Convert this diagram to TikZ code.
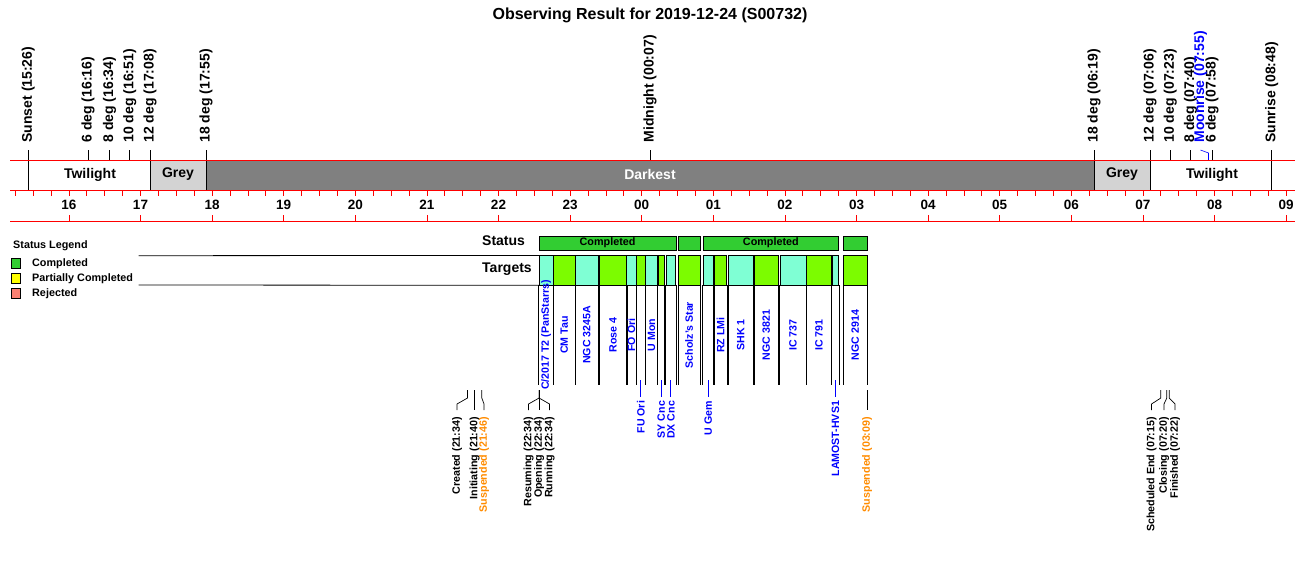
\documentclass[tikz,border=0pt]{standalone}
\usepackage{fontspec}
\setmainfont{Liberation Sans}
\usepackage{tikz}
\usetikzlibrary{arrows.meta,positioning,calc}
\definecolor{axisred}{RGB}{255,0,0}
\definecolor{greyband}{RGB}{211,211,211}
\definecolor{darkband}{RGB}{128,128,128}
\definecolor{done}{RGB}{50,205,50}
\definecolor{partial}{RGB}{255,255,0}
\definecolor{rejected}{RGB}{250,128,114}
\definecolor{tgtaqua}{RGB}{127,255,212}
\definecolor{tgtlawn}{RGB}{124,252,0}
\definecolor{evorange}{RGB}{255,140,0}
\newcommand\plotfont[1]{\fontsize{#1}{#1}\selectfont\bfseries}
\tikzset{
  x=1pt, y=-1pt,
  titlelbl/.style={inner sep=0pt, font=\plotfont{16}},
  toplbl/.style={rotate=90, anchor=west, inner sep=0pt, outer xsep=7.5pt,
    font=\plotfont{14}},
  bandlbl/.style={inner sep=0pt, font=\plotfont{14}},
  hourlbl/.style={inner sep=0pt, font=\plotfont{13.5}},
  rowlbl/.style={anchor=west, inner sep=0pt, font=\plotfont{14}},
  leglbl/.style={anchor=west, inner sep=0pt, font=\plotfont{10.8}},
  legbox/.style={draw=black, fill=#1, minimum size=9.5pt, inner sep=0pt,
    line width=0.6pt},
  statbox/.style={draw=black, fill=done, line width=0.6pt, inner sep=0pt,
    minimum height=14pt, font=\plotfont{10.8}},
  tgtbox/.style={draw=black, fill=#1, line width=0.6pt, inner sep=0pt,
    minimum height=29.3pt},
  tgtlbl/.style={rotate=90, inner sep=0pt, text=blue, font=\plotfont{10.6}},
  evlbl/.style={rotate=90, anchor=east, inner sep=0pt, outer xsep=7pt,
    font=\plotfont{10.7}},
  % line kinds
  redline/.style={axisred, line width=0.9pt},
  markline/.style={black, line width=0.8pt},
  colline/.style={black, line width=0.7pt},
  leadline/.style={black, line width=0.7pt},
}
\begin{document}
\begin{tikzpicture}
\path[fill=white,use as bounding box] (0,0) rectangle (1300,560);

\node[titlelbl] (title) at (650,15) {Observing Result for 2019-12-24 (S00732)};

% ---------- sky band ----------
\fill[white]    (10,160) rectangle (1295,190);
\fill[greyband] (150.0,160) rectangle (206.1,190);
\fill[darkband] (206.1,160) rectangle (1093.9,190);
\fill[greyband] (1093.9,160) rectangle (1150.1,190);

\node[bandlbl] (twiEve) at (90,174.5) {Twilight};
\node[bandlbl] (greyEve) at (178,174.5) {Grey};
\node[bandlbl, text=white] (darkest) at (650,174.5) {Darkest};
\node[bandlbl] (greyMorn) at (1122,174.5) {Grey};
\node[bandlbl] (twiMorn) at (1212,174.5) {Twilight};

% ---------- sun / twilight events ----------
\foreach \xx/\yb/\txt [count=\i] in {28.3/190/Sunset (15:26), 88.0/160/6 deg (16:16),
    109.5/160/8 deg (16:34), 129.7/160/10 deg (16:51), 150.0/190/12 deg (17:08),
    206.1/190/18 deg (17:55), 650.0/160/Midnight (00:07), 1093.9/190/18 deg (06:19),
    1150.1/190/12 deg (07:06), 1170.3/160/10 deg (07:23), 1190.6/160/8 deg (07:40),
    1212.1/160/6 deg (07:58), 1271.8/190/Sunrise (08:48)}{
  \node[toplbl] (sky\i) at (\xx,150) {\txt};
  \coordinate (skyEnd\i) at (\xx,\yb);
  \draw[markline] (sky\i.west) -- (skyEnd\i);}

\node[toplbl, text=blue] (moonrise) at (1200.5,150) {Moonrise (07:55)};
\coordinate (moonEnd) at (1208.5,160);
\draw[blue, line width=0.6pt] (moonrise.west) -- (1208.5,153) -- (moonEnd);

\draw[redline] (10,160) -- (1295,160);
\draw[redline] (10,190) -- (1295,190);

% ---------- time axis ----------
\foreach \k in {0,...,71}{
  \draw[redline, line width=0.7pt] ({15.2+\k*17.9},190) -- ++(0,6);}
\foreach \h [count=\i from 0] in {16,17,18,19,20,21,22,23,00,01,02,03,04,05,06,07,08,09}{
  \node[hourlbl] (hour\i) at ({68.9+\i*71.6},204.5) {\h};
  \draw[redline, line width=0.7pt] ({68.9+\i*71.6},215) -- ++(0,6);}
\draw[redline] (10,221) -- (1295,221);

% ---------- legend ----------
\node[leglbl] (legTitle) at (13,246) {Status Legend};
\node[legbox=done]     (legDone) at (16,263.5) {};
\node[legbox=partial]  (legPart) at (16,278.5) {};
\node[legbox=rejected] (legRej)  at (16,293.5) {};
\node[leglbl] at (32,263.5) {Completed};
\node[leglbl] at (32,278.5) {Partially Completed};
\node[leglbl] at (32,293.5) {Rejected};

% ---------- status row ----------
\node[rowlbl] (statusLbl)  at (482,241) {Status};
\node[rowlbl] (targetsLbl) at (482,269.5) {Targets};

\node[statbox, minimum width=136.9pt] (st1) at (607.55,243) {Completed};
\node[statbox, minimum width=21.7pt]  (st2) at (689.15,243) {};
\node[statbox, minimum width=135.7pt] (st3) at (770.85,243) {Completed};
\node[statbox, minimum width=23.9pt]  (st4) at (855.25,243) {};

% ---------- targets ----------
\foreach \l/\r/\c/\name/\flag [count=\i] in {
    539.1/553.3/tgtaqua/{C/2017 T2 (PanStarrs)}/1, 553.3/575.3/tgtlawn/CM Tau/1,
    575.3/598.3/tgtaqua/NGC 3245A/1, 599.3/626.7/tgtlawn/Rose 4/1,
    626.7/636.0/tgtaqua/FO Ori/1, 636.7/645.0/tgtlawn/FU Ori/0,
    645.7/657.3/tgtaqua/U Mon/1, 658.0/664.3/tgtlawn/SY Cnc/0,
    666.0/675.7/tgtaqua/DX Cnc/0, 678.3/700.0/tgtlawn/Scholz's Star/1,
    703.0/713.3/tgtaqua/U Gem/0, 714.3/726.7/tgtlawn/RZ LMi/1,
    728.3/753.3/tgtaqua/SHK 1/1, 754.3/778.3/tgtlawn/NGC 3821/1,
    780.0/806.0/tgtaqua/IC 737/1, 806.7/831.0/tgtlawn/IC 791/1,
    832.0/838.7/tgtaqua/LAMOST-HVS1/0, 843.3/867.2/tgtlawn/NGC 2914/1}{
  \pgfmathsetmacro\xc{(\l+\r)/2}
  \pgfmathsetmacro\bw{\r-\l}
  \node[tgtbox=\c, minimum width=\bw pt] (tgt\i) at (\xc,270.35) {};
  \draw[colline] (tgt\i.south west) -- ++(0,100);
  \draw[colline] (tgt\i.south east) -- ++(0,100);
  \ifnum\flag=1
    \node[tgtlbl] (tgtLbl\i) at (\xc,335) {\name};
  \else
    \coordinate (tgtFoot\i) at (\xc,380);
    \node[tgtlbl, anchor=east, outer xsep=4pt] (tgtLbl\i) at (\xc,397) {\name};
    \draw[blue, line width=0.8pt] (tgtFoot\i) -- (tgtLbl\i.east);
  \fi}

\draw[markline] (138.6,255.7) -- (tgt1.north west);
\draw[markline] (138.6,285.0) -- (tgt1.south west);

% ---------- observation events ----------
\foreach \xt/\xl/\txt/\col [count=\i] in {467.5/457.0/Created (21:34)/black,
    474.6/474.6/Initiating (21:40)/black, 481.8/484.0/Suspended (21:46)/evorange,
    539.1/528.5/Resuming (22:34)/black, 539.1/539.1/Opening (22:34)/black,
    539.1/549.5/Running (22:34)/black, 867.2/867.2/Suspended (03:09)/evorange,
    1160.8/1151.5/Scheduled End (07:15)/black, 1166.8/1164.0/Closing (07:20)/black,
    1169.2/1175.0/Finished (07:22)/black}{
  \node[evlbl, text=\col] (evLbl\i) at (\xl,410) {\txt};
  \coordinate (evTop\i) at (\xt,390);
  \draw[leadline] (evTop\i) -- (\xt,398) -- (\xl,404) -- (evLbl\i.east);}

\end{tikzpicture}
\end{document}
